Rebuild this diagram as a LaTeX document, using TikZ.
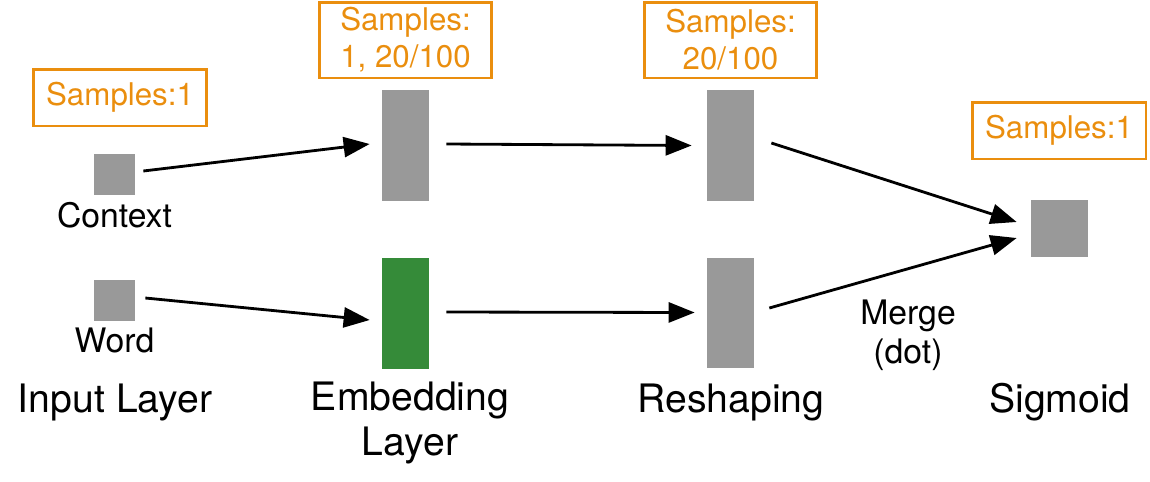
\documentclass[tikz,border=0pt]{standalone}
\usepackage{fontspec}
\setmainfont{TeX Gyre Heros}
\usepackage{xcolor}
\usetikzlibrary{arrows.meta}

\definecolor{unitgray}{RGB}{153,153,153}
\definecolor{embgreen}{RGB}{53,139,57}
\definecolor{samporange}{RGB}{234,142,14}

\begin{document}
\begin{tikzpicture}[x=0.02cm,y=-0.02cm,
	unit/.style={fill=unitgray, inner sep=0pt},
	samplebox/.style={draw=samporange, line width=1.7pt, text=samporange, align=center, inner sep=0pt, font=\fontsize{17.8}{21}\selectfont},
	small/.style={font=\fontsize{19.2}{22}\selectfont, align=center, anchor=base},
	big/.style={font=\fontsize{22.3}{25.6}\selectfont, align=center, anchor=base},
	arr/.style={-{Triangle[length=14.8pt,width=11.4pt]}, line width=1.6pt}]

\useasboundingbox (0,0) rectangle (1150,481);

% units
\node[unit, minimum width=0.82cm, minimum height=0.82cm] (ctx) at (114.5,174.5) {};
\node[unit, minimum width=0.82cm, minimum height=0.82cm] (word) at (114.5,300.5) {};
\node[unit, minimum width=0.94cm, minimum height=2.22cm] (emb1) at (405.5,145.5) {};
\node[unit, fill=embgreen, minimum width=0.94cm, minimum height=2.22cm] (emb2) at (405.5,313.5) {};
\node[unit, minimum width=0.94cm, minimum height=2.22cm] (res1) at (730.5,145.5) {};
\node[unit, minimum width=0.94cm, minimum height=2.22cm] (res2) at (730.5,313) {};
\node[unit, minimum width=1.14cm, minimum height=1.14cm] (sig) at (1059.5,228.5) {};

% sample counts
\node[samplebox, minimum width=3.48cm, minimum height=1.14cm] (s1) at (120,97.5) {Samples:1};
\node[samplebox, minimum width=3.46cm, minimum height=1.52cm] (s2) at (405.5,40) {Samples:\\1, 20/100};
\node[samplebox, minimum width=3.46cm, minimum height=1.52cm] (s3) at (730.5,40) {Samples:\\20/100};
\node[samplebox, minimum width=3.48cm, minimum height=1.14cm] (s4) at (1059,130.5) {Samples:1};

% labels
\node[small] (lctx) at (114.5,227) {Context};
\node[small] (lword) at (114.5,352) {Word};
\node[small] (lmerge) at (908,363) {Merge\\(dot)};
\node[big] (linput) at (115,412) {Input Layer};
\node[big] (lemb) at (410,455) {Embedding\\Layer};
\node[big] (lres) at (731,412) {Reshaping};
\node[big] (lsig) at (1060,412) {Sigmoid};

% connections
\draw[arr] ([shift={(8,-3.5)}]ctx.east) -- ([shift={(-12,-1.5)}]emb1.west);
\draw[arr] ([shift={(10,-2.5)}]word.east) -- ([shift={(-12,6.5)}]emb2.west);
\draw[arr] ([shift={(17,-1.5)}]emb1.east) -- ([shift={(-15,0)}]res1.west);
\draw[arr] ([shift={(17,-1.5)}]emb2.east) -- ([shift={(-12,-0.5)}]res2.west);
\draw[arr] ([shift={(17,-2.5)}]res1.east) -- ([shift={(-14,-6.5)}]sig.west);
\draw[arr] ([shift={(15,-5)}]res2.east) -- ([shift={(-14,9.5)}]sig.west);

\end{tikzpicture}
\end{document}
